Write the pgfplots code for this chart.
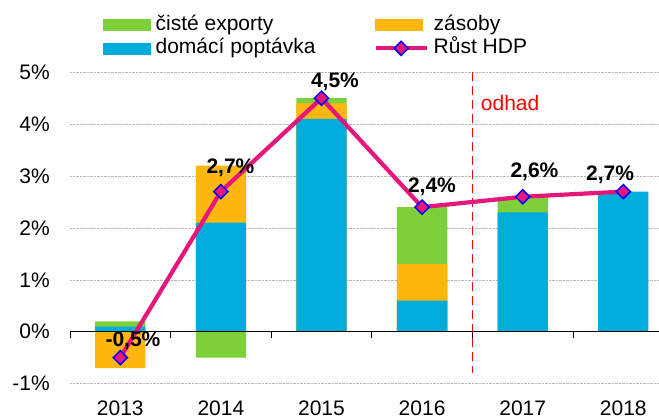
\documentclass[border=0pt]{standalone}
\usepackage{pgfplots}
\pgfplotsset{compat=1.18}
\usepackage{fontspec}
\setmainfont{Liberation Sans}
\definecolor{cgreen}{RGB}{126,208,59}
\definecolor{corange}{RGB}{255,182,14}
\definecolor{cblue}{RGB}{0,172,218}
\definecolor{cpink}{RGB}{230,22,122}
\definecolor{cmark}{RGB}{0,0,255}
\pgfplotsset{
  lineleg/.style={legend image code/.code={\draw[mark repeat=2,mark phase=2,##1] plot coordinates {(0pt,0pt) (25.5pt,0pt) (51pt,0pt)};}},
  rectleg/.style={legend image code/.code={\fill[##1] (0pt,-5.5pt) rectangle (47pt,5.5pt);}},
}
\begin{document}
\begin{tikzpicture}[font=\fontsize{21}{25}\selectfont]
\useasboundingbox (0,0) rectangle (659pt,418pt);
\begin{axis}[
  at={(70pt,24pt)}, anchor=south west,
  scale only axis, width=603.6pt, height=321.8pt,
  xmin=-0.5, xmax=5.5, ymin=-1.2, ymax=5,
  axis line style={draw=none},
  major tick length=0pt,
  xtick={0,...,5}, xticklabels={2013,2014,2015,2016,2017,2018},
  ytick={-1,0,...,5}, yticklabels={-1\%,0\%,1\%,2\%,3\%,4\%,5\%},
  ymajorgrids, major grid style={densely dotted, black!28, line width=0.6pt},
  tick label style={font=\fontsize{21}{25}\selectfont},
  xticklabel style={anchor=base, yshift=-21.7pt, inner sep=0pt},
  yticklabel style={anchor=east, xshift=-20pt, inner sep=0pt},
  clip=false,
  legend columns=2,
  legend cell align=left,
  legend style={at={(axis description cs:0.0547,1.178)}, anchor=north west,
    draw=none, fill=none, inner sep=0pt, row sep=4pt,
    font=\fontsize{21}{25}\selectfont,
    nodes={inner sep=0pt, text height=15pt, text depth=4.5pt},
    /tikz/every odd column/.append style={column sep=5pt},
    /tikz/every even column/.append style={column sep=58pt}},
]
\addlegendimage{cgreen, rectleg}
\addlegendentry{čisté exporty}
\addlegendimage{corange, rectleg}
\addlegendentry{zásoby}
\addlegendimage{cblue, rectleg}
\addlegendentry{domácí poptávka}
\addlegendimage{cpink, line width=4.2pt, mark=square*, mark size=5pt,
  mark options={rotate=45, fill=cpink, draw=cmark, line width=1.5pt}, lineleg}
\addlegendentry{Růst HDP}

% bars drawn as overlapping cumulative layers (top of each segment)
\addplot[ybar, bar width=0.5, bar shift=0pt, fill=cgreen, draw=none, forget plot]
  coordinates {(0,0.2) (1,-0.5) (2,4.5) (3,2.4) (4,2.6)};
\addplot[ybar, bar width=0.5, bar shift=0pt, fill=corange, draw=none, forget plot]
  coordinates {(0,-0.7) (1,3.2) (2,4.4) (3,1.3)};
\addplot[ybar, bar width=0.5, bar shift=0pt, fill=cblue, draw=none, forget plot]
  coordinates {(0,0.1) (1,2.1) (2,4.1) (3,0.6) (4,2.3) (5,2.7)};

% zero axis line and ticks
\addplot[black, line width=0.8pt, forget plot] coordinates {(-0.5,0) (5.5,0)};
\addplot[black, line width=0.8pt, ycomb, forget plot]
  coordinates {(-0.5,-0.12) (0.5,-0.12) (1.5,-0.12) (2.5,-0.12) (3.5,-0.12) (4.5,-0.12)};

% forecast separator
\addplot[red, line width=1.8pt, dash pattern=on 9pt off 5pt, forget plot]
  coordinates {(3.5,5) (3.5,-0.8)};

% GDP growth
\addplot[cpink, line width=4.2pt, mark=square*, mark size=5pt,
  mark options={rotate=45, fill=cpink, draw=cmark, line width=1.5pt, solid}, forget plot]
  coordinates {(0,-0.5) (1,2.7) (2,4.5) (3,2.4) (4,2.6) (5,2.7)};

\node[red, anchor=base west, inner sep=0pt] at (axis cs:3.583,4.26) {odhad};
\begin{scope}[every node/.style={font=\fontsize{21}{25}\selectfont\bfseries, anchor=base, inner sep=0pt}]
\node at (axis cs:0.126,-0.29) {-0,5\%};
\node at (axis cs:1.095,3.05) {2,7\%};
\node at (axis cs:2.134,4.70) {4,5\%};
\node at (axis cs:3.098,2.686) {2,4\%};
\node at (axis cs:4.117,2.975) {2,6\%};
\node at (axis cs:4.868,2.909) {2,7\%};
\end{scope}
\end{axis}
\end{tikzpicture}
\end{document}
